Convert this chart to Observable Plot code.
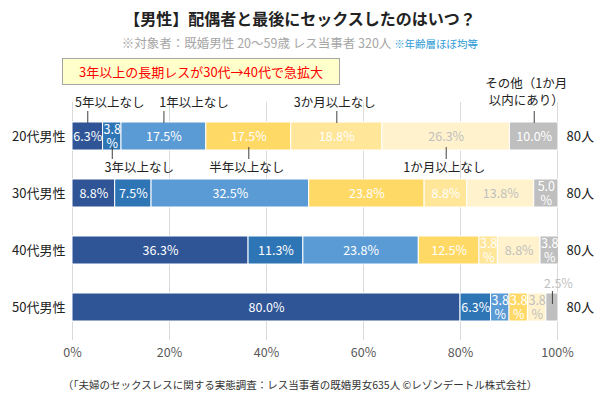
<!DOCTYPE html>
<html><head><meta charset="utf-8">
<script src="https://cdn.jsdelivr.net/npm/d3@7"></script>
<script src="https://cdn.jsdelivr.net/npm/@observablehq/plot@0.6"></script>
<style>
body{margin:0;background:#fff;font-family:"Noto Sans CJK JP","Noto Sans",sans-serif;}
#wrap{position:relative;width:600px;height:396px;overflow:hidden;}
#chart{position:absolute;left:0;top:0;}
#title{position:absolute;left:0;width:600px;top:6px;text-align:center;font-size:16px;font-weight:bold;color:#222;line-height:24px;}
#sub{position:absolute;left:0;width:600px;top:34px;text-align:center;font-size:12.5px;color:#A6A6A6;line-height:18px;}
#sub span{color:#2E9BD6;font-size:10.5px;}
#note{position:absolute;left:62px;top:58px;width:276px;height:25px;background:#FFFFCC;border:1px solid #A6A6A6;color:#FF0000;font-size:13px;line-height:25px;text-align:center;}
#caption{position:absolute;left:0;width:600px;top:376px;text-align:center;font-size:10.5px;color:#333;line-height:18px;}
</style></head>
<body>
<div id="wrap">
<div id="chart"></div>
<div id="title">【男性】配偶者と最後にセックスしたのはいつ？</div>
<div id="sub">※対象者：既婚男性 20〜59歳 レス当事者 320人 <span>※年齢層ほぼ均等</span></div>
<div id="note">3年以上の長期レスが30代→40代で急拡大</div>
<div id="caption">（「夫婦のセックスレスに関する実態調査：レス当事者の既婚男女635人 ©レゾンデートル株式会社）</div>
</div>
<script>
const rows = ["20代男性","30代男性","40代男性","50代男性"];
const counts = ["80人","80人","80人","80人"];
const categories = ["5年以上なし","3年以上なし","1年以上なし","半年以上なし","3か月以上なし","1か月以上なし","その他"];
const v20 = [6.3,3.8,17.5,17.5,18.8,26.3,10.0];
const v30 = [8.8,7.5,32.5,23.8,8.8,13.8,5.0];
const v40 = [36.3,11.3,23.8,12.5,3.8,8.8,3.8];
const v50 = [80.0,6.3,3.8,3.8,0,3.8,2.5];
const colors = ["#2F5597","#2E75B6","#5B9BD5","#FFD966","#FFE699","#FFF2CC","#BFBFBF"];
const xTicks = [0,20,40,60,80,100];
const annoLabels = ["5年以上なし","1年以上なし","3か月以上なし","その他（1か月\n以内にあり）","3年以上なし","半年以上なし","1か月以上なし"];
const annoCats = ["5年以上なし","1年以上なし","3か月以上なし","その他","3年以上なし","半年以上なし","1か月以上なし"];
const annoSide = ["top","top","top","top","bottom","bottom","bottom"];
const annoRow = "20代男性";
const outsideRow = "50代男性";
const outsideCat = "その他";

const series = [v20, v30, v40, v50];
const data = [];
rows.forEach((r, ri) => {
  let acc = 0;
  series[ri].forEach((v, ci) => {
    data.push({row: r, cat: categories[ci], value: v, x1: acc, x2: acc + v, mid: acc + v / 2});
    acc += v;
  });
});
const fmt = d => d.value < 6 ? d.value.toFixed(1) + "\n%" : d.value.toFixed(1) + "%";
const inBar = data.filter(d => d.value > 0 && !(d.row === outsideRow && d.cat === outsideCat));
const outside = data.filter(d => d.row === outsideRow && d.cat === outsideCat);

const annos = annoLabels.map((label, i) => {
  const seg = data.find(d => d.row === annoRow && d.cat === annoCats[i]);
  return {label, row: annoRow, mid: seg.mid, side: annoSide[i]};
});
const annoDx = {"5年以上なし": 22, "1年以上なし": 30, "3か月以上なし": -2, "その他（1か月\n以内にあり）": -8, "3年以上なし": 27, "半年以上なし": -2, "1か月以上なし": -2};

const annoMarks = annos.map(a => Plot.text([a], {
  x: "mid", y: "row", text: "label",
  dy: a.side === "top" ? (a.label.includes("\n") ? -45 : -35) : 30,
  dx: annoDx[a.label], fill: "#222", fontSize: 12.5, lineHeight: 1.35
}));

const chart = Plot.plot({
  width: 600, height: 372,
  marginLeft: 72, marginRight: 43, marginTop: 102, marginBottom: 32,
  style: {fontFamily: '"Noto Sans CJK JP","Noto Sans",sans-serif', background: "transparent"},
  x: {domain: [0, 100]},
  y: {domain: rows, paddingInner: 0.51, paddingOuter: 0.33},
  color: {domain: categories, range: colors},
  marks: [
    Plot.gridX({ticks: xTicks, stroke: "#D9D9D9", strokeOpacity: 1}),
    Plot.barX(data, {x1: "x1", x2: "x2", y: "row", fill: "cat", stroke: "white", strokeWidth: 1}),
    Plot.text(inBar.filter(d => d.cat !== "1か月以上なし"), {x: "mid", y: "row", text: fmt, fill: "white", fontSize: 12.5, lineHeight: 1.15}),
    Plot.text(inBar.filter(d => d.cat === "1か月以上なし"), {x: "mid", y: "row", text: fmt, fill: "#BFBFBF", fontSize: 12.5, lineHeight: 1.15}),
    Plot.ruleX(annos.filter(a => a.side === "top"), {x: "mid", y1: "row", y2: "row", stroke: "#404040", insetTop: -11, insetBottom: 27}),
    Plot.ruleX(annos.filter(a => a.side === "bottom"), {x: "mid", y1: "row", y2: "row", stroke: "#404040", insetTop: 25, insetBottom: -9}),
    ...annoMarks,
    Plot.ruleX(outside, {x: "mid", y1: "row", y2: "row", stroke: "#404040", insetTop: -2, insetBottom: 17}),
    Plot.text(outside, {x: "mid", y: "row", text: d => d.value.toFixed(1) + "%", dy: -24, dx: 6, fill: "#BFBFBF", fontSize: 12.5}),
    Plot.axisX({ticks: xTicks, tickFormat: d => d + "%", tickSize: 0, tickPadding: 8, fontSize: 12.5, color: "#595959", label: null}),
    Plot.axisY({anchor: "left", tickSize: 0, tickPadding: 7, fontSize: 13, color: "#222", label: null}),
    Plot.axisY({anchor: "right", tickSize: 0, tickPadding: 9, fontSize: 13, color: "#222", label: null, tickFormat: d => counts[rows.indexOf(d)]})
  ]
});
document.getElementById("chart").appendChild(chart);
</script>
</body></html>
